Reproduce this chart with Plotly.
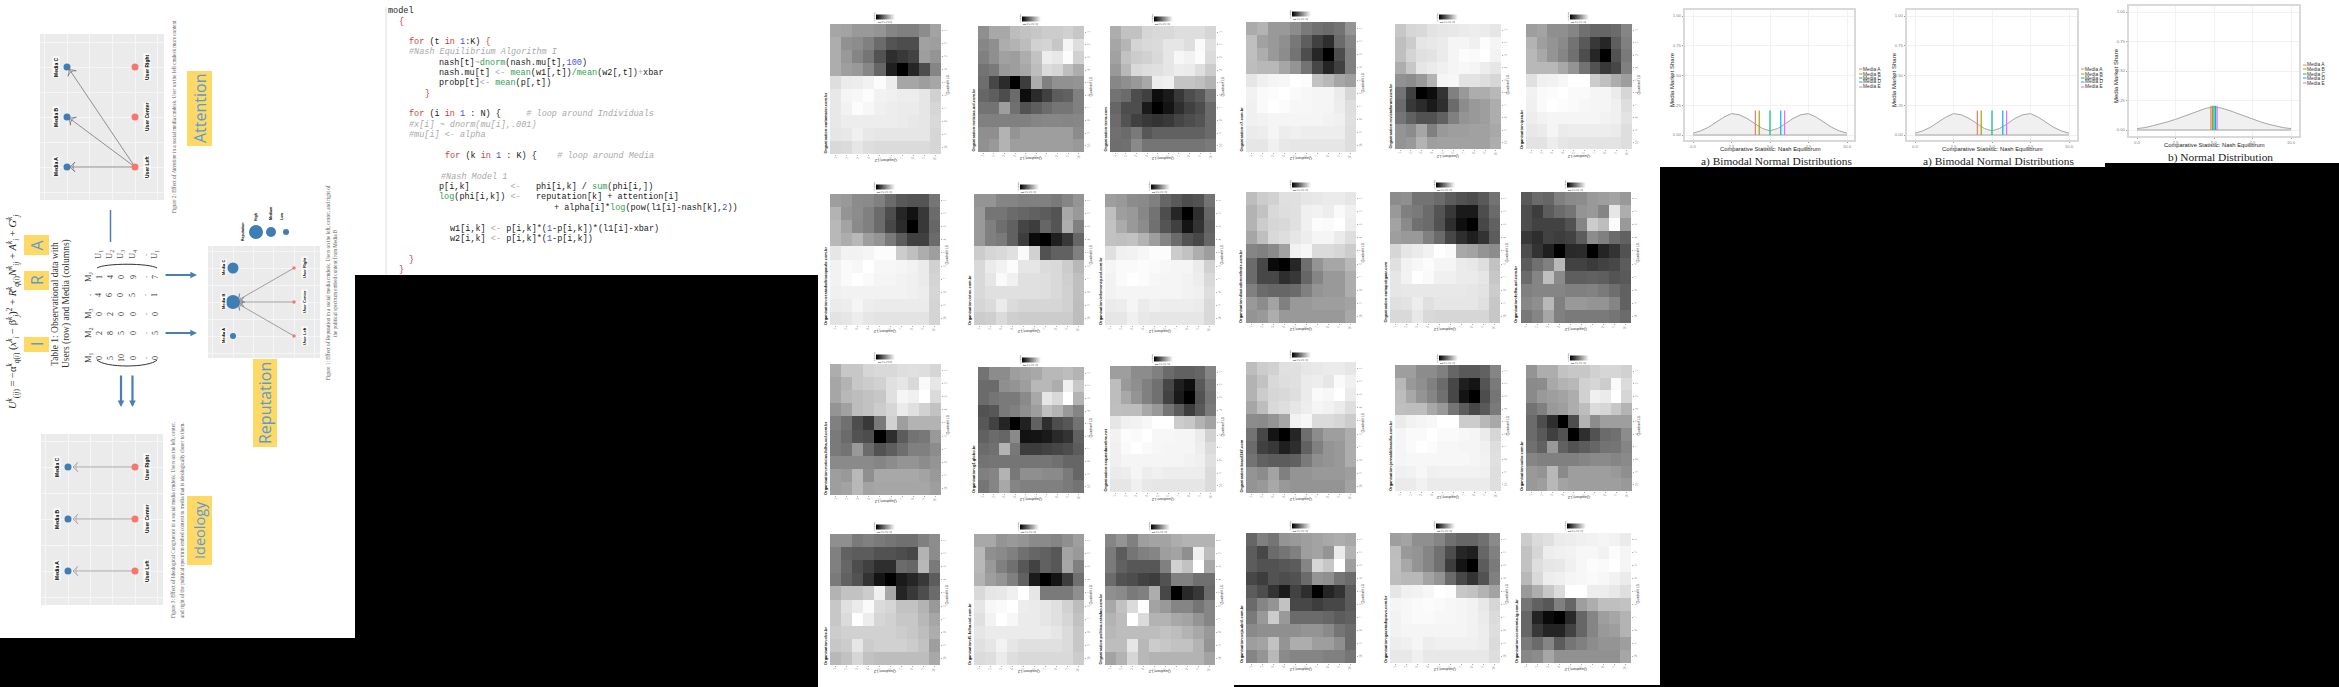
import plotly.graph_objects as go

W, H = 2339, 687

# ---------- heat map values (lightness of every tile, 0 black .. 100 white) ----------
heat_01 = [[65,64,60,60,58,52,50,50,55,64],[68,57,55,50,42,33,30,30,63,62],[68,60,52,46,32,18,22,26,62,58],[68,62,60,53,40,12,0,15,30,52],[87,92,93,95,99,93,65,65,62,65],[91,96,97,99,95,94,93,93,90,82],[91,95,99,97,94,93,92,92,90,84],[91,93,93,93,93,93,92,91,90,85],[90,91,94,91,90,90,90,90,90,84],[85,86,90,87,86,86,86,86,86,84]]
heat_02 = [[56,66,66,74,76,78,80,80,82,78],[53,56,68,70,74,82,83,78,96,87],[50,56,63,62,68,76,93,91,99,82],[45,48,60,62,66,74,86,84,75,68],[43,28,17,0,24,68,50,57,57,58],[40,37,30,42,5,17,25,36,38,50],[45,45,62,44,32,37,42,46,46,50],[50,50,50,50,50,52,53,53,52,53],[56,56,70,58,62,62,62,62,62,55],[57,60,70,62,62,62,62,62,62,60]]
heat_03 = [[68,76,76,84,85,85,87,87,87,84],[65,71,83,85,86,90,90,87,98,88],[63,76,80,82,85,90,97,95,99,86],[60,72,85,87,88,90,93,92,87,80],[53,56,60,66,93,94,77,77,75,70],[45,42,30,25,5,10,22,30,35,48],[40,30,30,10,0,8,18,25,30,42],[42,32,25,22,20,22,27,30,33,42],[44,42,48,34,38,38,38,38,38,42],[43,44,54,46,46,46,46,46,46,48]]
heat_04 = [[67,70,60,60,55,48,44,42,45,58],[75,63,60,56,47,37,25,18,42,52],[75,68,60,55,45,30,15,0,30,50],[74,72,72,65,58,45,28,14,25,50],[90,94,96,97,100,99,76,72,65,62],[95,98,99,100,98,97,96,96,92,84],[94,98,100,99,97,97,96,96,93,87],[94,95,96,96,96,96,96,95,94,88],[92,93,96,93,94,93,93,93,93,87],[90,90,94,91,90,90,90,90,90,87]]
heat_05 = [[78,84,85,89,90,91,92,93,92,90],[75,80,90,91,92,96,96,94,99,96],[75,83,88,89,92,96,99,98,100,95],[68,78,90,92,94,96,97,96,93,90],[57,55,60,70,96,97,89,89,87,84],[45,25,0,5,20,50,60,68,68,72],[42,22,17,10,18,42,55,60,62,68],[46,38,32,32,38,50,58,60,62,68],[58,55,65,50,60,62,62,63,63,66],[58,60,70,62,63,63,63,63,63,68]]
heat_06 = [[62,64,56,56,52,44,40,40,42,52],[70,62,58,54,45,35,22,15,37,50],[72,66,58,52,44,30,15,0,32,48],[72,72,72,66,58,45,32,22,28,50],[88,94,95,97,100,100,80,75,68,62],[95,98,99,100,98,98,96,96,92,84],[94,98,100,99,98,97,96,96,94,87],[93,95,96,96,96,96,96,95,94,89],[91,92,96,92,93,93,93,93,92,87],[89,89,93,90,89,89,89,89,89,87]]
heat_07 = [[62,60,55,54,50,42,35,33,33,46],[70,58,55,50,42,30,15,7,22,42],[72,64,54,50,42,28,17,0,22,40],[72,68,72,62,58,48,36,25,25,42],[90,95,95,96,99,99,80,75,68,62],[95,98,97,100,97,97,96,95,92,82],[95,98,100,98,96,96,95,94,92,83],[94,95,95,95,95,95,95,94,93,84],[92,93,96,93,92,92,92,92,92,83],[89,90,93,90,89,89,89,89,89,83]]
heat_08 = [[58,58,52,52,50,50,50,48,52,58],[60,46,46,42,40,38,36,33,66,60],[60,50,43,38,27,24,40,33,68,50],[60,50,48,38,24,4,0,12,22,40],[80,84,85,88,98,82,32,38,38,50],[85,92,95,99,90,90,86,85,80,72],[85,90,98,94,88,88,87,85,81,75],[85,88,88,88,88,88,87,85,82,75],[84,86,92,86,84,84,84,84,82,74],[80,81,86,81,80,80,80,80,80,74]]
heat_09 = [[62,60,55,54,50,40,35,30,32,45],[75,62,60,53,45,30,15,0,18,40],[76,67,60,55,44,33,25,8,20,38],[76,75,76,70,62,52,42,32,28,40],[88,94,95,97,99,99,80,76,68,62],[96,98,98,99,98,97,96,96,92,82],[95,98,100,99,97,96,96,95,93,85],[95,96,96,96,96,96,96,95,94,87],[92,93,96,92,94,93,93,93,92,85],[90,90,94,91,90,90,90,90,90,85]]
heat_10 = [[74,80,82,88,88,90,91,92,92,90],[70,76,85,87,88,94,95,93,98,94],[70,80,84,85,88,94,99,98,100,93],[65,75,85,87,90,93,96,96,92,87],[52,50,54,63,95,97,86,86,84,80],[42,28,4,0,15,43,58,65,65,72],[42,28,28,18,22,40,52,60,60,68],[50,42,40,40,42,50,58,60,60,68],[60,55,64,50,60,60,62,62,62,64],[58,60,68,60,60,60,60,60,60,66]]
heat_11 = [[55,56,45,45,42,36,32,30,35,45],[60,50,48,42,33,22,10,10,30,42],[64,54,44,42,32,18,6,0,28,38],[62,60,60,50,42,28,18,12,20,36],[84,90,92,95,100,98,66,64,58,55],[88,95,97,99,96,96,92,91,87,76],[90,95,100,98,94,94,92,92,90,78],[90,91,91,91,91,91,91,90,89,80],[88,89,93,88,90,90,90,90,88,78],[85,85,91,85,84,84,84,84,84,78]]
heat_12 = [[35,42,40,50,54,55,60,62,64,60],[30,24,36,42,46,58,60,52,90,68],[30,26,26,26,32,52,80,74,99,60],[22,18,26,24,26,36,55,50,42,38],[30,20,12,0,16,17,0,14,20,32],[36,44,50,72,26,26,23,26,28,36],[42,52,75,54,37,37,38,37,33,35],[50,52,52,52,50,50,51,48,43,38],[53,56,72,50,60,60,58,58,52,38],[47,52,65,50,48,48,48,48,46,42]]
heat_13 = [[68,78,78,84,85,85,87,88,87,84],[65,70,78,80,82,88,90,85,98,90],[65,72,74,76,78,88,96,94,100,86],[58,63,74,76,80,84,92,88,82,76],[50,44,30,22,48,82,62,70,70,70],[48,42,32,30,0,18,36,45,47,60],[48,45,60,42,32,37,43,50,50,55],[54,54,54,54,52,55,58,58,55,58],[62,60,72,56,66,66,66,66,64,60],[62,64,72,64,65,65,65,65,65,62]]
heat_14 = [[45,55,55,62,64,66,72,72,74,70],[42,42,56,58,62,72,72,68,94,78],[42,46,48,48,54,66,90,85,100,70],[32,34,48,50,56,62,75,70,60,52],[34,26,14,0,13,38,18,30,34,45],[38,42,40,54,7,8,10,16,20,38],[42,44,70,47,24,24,26,28,30,36],[45,46,46,46,46,46,46,44,40,40],[50,52,70,47,56,56,54,54,48,40],[46,52,66,52,50,50,50,50,48,45]]
heat_15 = [[62,62,55,55,50,42,38,38,40,52],[74,60,56,50,44,28,12,6,35,48],[74,66,58,50,44,26,10,0,32,46],[75,74,74,66,60,46,36,24,35,48],[90,94,95,97,100,100,80,78,70,64],[95,99,98,100,97,97,96,96,92,82],[94,98,100,98,97,96,96,96,93,86],[94,96,96,96,96,96,96,95,94,88],[92,93,96,93,94,93,93,93,93,86],[90,90,94,91,90,90,90,90,90,86]]
heat_16 = [[74,80,82,88,88,90,91,92,92,90],[70,76,85,87,88,92,93,90,98,94],[70,80,84,85,87,92,98,97,100,92],[65,74,85,87,90,93,96,95,92,87],[55,54,58,65,95,97,86,86,84,80],[45,28,8,0,15,43,55,62,62,68],[42,25,22,12,18,38,50,58,60,68],[45,38,36,36,38,48,56,58,60,68],[58,55,64,50,58,58,60,60,60,62],[58,60,66,60,58,58,58,58,58,64]]
heat_17 = [[62,62,55,55,50,40,35,35,38,52],[72,60,56,50,42,28,12,8,33,48],[74,66,58,52,44,28,8,0,30,46],[75,74,74,66,60,46,36,28,35,48],[92,95,96,97,100,100,80,80,72,66],[96,98,98,100,98,98,97,96,92,84],[96,98,100,99,97,97,96,96,94,87],[96,97,97,97,97,97,97,96,95,88],[94,95,97,94,95,95,95,95,94,87],[92,92,95,92,92,92,92,92,92,87]]
heat_18 = [[58,68,68,76,78,78,82,84,84,82],[54,55,66,70,72,82,84,80,98,86],[54,60,62,64,68,82,94,92,100,84],[45,50,60,62,68,74,86,84,78,70],[42,30,18,0,30,70,55,62,62,62],[42,35,25,32,0,18,32,42,44,55],[44,38,60,38,32,36,40,45,46,52],[52,50,50,50,50,52,54,54,52,54],[60,58,72,54,62,62,62,62,60,56],[60,62,72,64,62,62,62,62,62,60]]
heat_19 = [[56,56,48,50,48,46,44,44,50,55],[50,38,36,36,32,32,30,28,70,55],[50,40,30,25,18,18,42,40,72,48],[48,38,32,20,8,0,10,15,22,36],[70,76,76,80,94,66,14,22,30,42],[78,88,92,98,86,84,76,76,70,60],[78,86,100,93,84,82,78,78,72,65],[80,82,82,82,82,82,80,78,74,68],[78,80,90,80,82,82,82,80,76,62],[72,76,84,76,74,74,74,74,74,66]]
heat_20 = [[66,66,58,60,58,54,54,52,56,62],[72,56,54,50,44,40,38,34,64,60],[72,60,50,44,34,26,38,34,65,50],[70,62,58,50,38,10,0,8,24,44],[85,90,91,94,100,90,48,48,48,56],[90,97,98,100,93,92,90,88,82,74],[88,95,100,97,92,92,90,88,84,76],[90,92,92,92,92,92,92,90,86,78],[88,90,95,90,88,88,88,88,86,78],[86,87,92,87,85,85,85,85,85,80]]
heat_21 = [[52,58,50,62,64,64,68,70,70,70],[48,36,46,50,52,62,64,56,94,74],[48,38,34,34,34,50,82,76,100,66],[42,32,30,26,24,32,50,50,44,44],[56,54,48,50,68,28,0,16,22,42],[66,76,86,100,64,60,52,52,46,52],[70,74,100,86,70,70,66,64,58,52],[72,74,74,74,74,76,74,70,66,60],[74,74,90,72,80,78,76,76,70,58],[64,70,84,72,70,70,70,70,70,64]]
heat_22 = [[40,50,46,58,60,62,64,66,68,66],[36,28,42,46,50,62,64,58,92,70],[36,32,32,34,36,52,84,78,100,62],[28,24,32,30,32,42,58,56,46,42],[36,30,20,10,26,18,0,14,20,36],[42,52,58,76,28,28,24,28,28,36],[48,60,80,60,42,42,42,40,36,38],[54,56,56,56,56,58,58,54,46,42],[62,64,76,58,68,68,62,62,56,42],[52,58,72,54,52,52,52,50,50,46]]
heat_23 = [[62,64,56,56,52,44,40,40,44,54],[74,60,58,52,44,30,15,12,40,50],[75,66,58,52,44,24,8,0,36,48],[74,72,72,64,58,42,28,20,32,50],[90,94,95,97,100,99,78,76,70,64],[96,97,98,99,98,97,96,95,91,84],[95,97,98,98,97,97,96,95,92,86],[95,96,96,96,96,96,96,95,93,87],[93,94,96,93,94,94,94,94,93,86],[91,91,94,91,91,91,91,91,91,87]]
heat_24 = [[80,86,88,92,93,94,95,96,95,92],[76,84,93,94,95,97,97,95,99,96],[76,87,90,91,94,97,99,98,100,96],[72,85,93,94,96,97,98,97,95,92],[60,68,78,86,100,100,93,93,91,87],[46,38,34,50,40,62,68,75,75,76],[40,14,4,0,16,40,52,62,65,70],[40,22,14,14,26,40,52,60,62,70],[48,42,52,36,46,50,55,58,58,62],[53,55,65,57,57,57,57,57,57,65]]

heat_matrices = [heat_01, heat_02, heat_03, heat_04, heat_05, heat_06,
                 heat_07, heat_08, heat_09, heat_10, heat_11, heat_12,
                 heat_13, heat_14, heat_15, heat_16, heat_17, heat_18,
                 heat_19, heat_20, heat_21, heat_22, heat_23, heat_24]

heat_names = ["cartamaior.com.br", "noticias.uol.com.br", "terra.com",
              "r7.com.br", "revistaforum.com.br", "ipea.br",
              "oestadodesaopaulo.com.br", "istoe.com.br", "infomoney.uol.com.br",
              "diariodonordeste.com.br", "cartapotiguar.com", "folha.uol.com.br",
              "noticias.folha.uol.com.br", "g1.globo.br", "esquerdaonline.net",
              "brasil247.com", "jornaldebrasilia.com.br", "valor.com.br",
              "ebc.br", "f5.folha.uol.com.br", "politica.estadao.com.br",
              "veja.abril.com.br", "gazetadopovo.com.br", "economia.ig.com.br"]

tile_ticks = ["1", "2", "3", "4", "5", "6", "7", "8", "9", "10"]

# ---------- density charts ----------
dens_x = [0, .5, 1, 1.5, 2, 2.5, 3, 3.5, 4, 4.5, 5, 5.5, 6, 6.5, 7, 7.5, 8, 8.5, 9, 9.5, 10]
dens_bimodal = [.015, .035, .065, .105, .15, .18, .17, .14, .095, .055, .035, .055, .095, .14, .17, .18, .15, .105, .065, .035, .015]
dens_normal = [.012, .02, .035, .05, .07, .09, .115, .14, .165, .185, .195, .185, .165, .14, .115, .09, .07, .05, .035, .02, .012]
media_names = ["Media A", "Media B", "Media C", "Media D", "Media E"]
media_colors = ["#F8766D", "#A3A500", "#00BF7D", "#00B0F6", "#E76BF3"]
nash_bimodal = [4.05, 4.3, 5.0, 5.7, 5.95]
nash_normal = [4.8, 4.9, 5.0, 5.1, 5.2]
share_top = 0.205

# ---------- network panels ----------
node_pos = [1, 2, 3]
media_side, user_side = 0, 1
media_labels = ["Media A", "Media B", "Media C"]
user_labels = ["User Left", "User Center", "User Right"]
attention_edges = [(1, 1), (1, 2), (1, 3)]
ideology_edges = [(1, 1), (2, 2), (3, 3)]
reputation_edges = [(1, 2), (2, 2), (3, 2)]
reputation_sizes = [6, 14, 11]
rep_legend_pos = [1, 2, 3]
rep_legend_sizes = [14, 10, 6]
rep_legend_labels = ["High", "Medium", "Low"]

# ---------- table ----------
table_cols = ["M<sub>1</sub>", "M<sub>2</sub>", "M<sub>3</sub>", ".", "M<sub>J</sub>"]
table_rows = ["U<sub>1</sub>", "U<sub>2</sub>", "U<sub>3</sub>", "U<sub>4</sub>", ".", "U<sub>I</sub>"]
table_vals = [["0", "2", "0", "4", "1"], ["5", "8", "2", "6", "4"], ["10", "5", "0", "0", "0"],
              ["0", "0", "0", "5", "9"], [".", ".", ".", ".", "."], ["0", "5", "0", "1", "7"]]

# ---------- helpers ----------
def px(x): return x / W
def py(y): return 1 - y / H

SERIF = "Liberation Serif"
SANS = "Liberation Sans"
fig = go.Figure()
shapes, annos, axes = [], [], {}
axis_no = [0]

def text(x, y, s, size, color="#000", angle=0, xa="center", ya="middle", family=SANS, **kw):
    annos.append(dict(x=px(x), y=py(y), xref="paper", yref="paper", text=s, showarrow=False,
                      textangle=angle, xanchor=xa, yanchor=ya, borderpad=0, borderwidth=0,
                      font=dict(size=size, color=color, family=family), **kw))

def rect(x0, y0, x1, y1, color):
    shapes.append(dict(type="rect", xref="paper", yref="paper", x0=px(x0), x1=px(x1), y0=py(y0), y1=py(y1),
                       fillcolor=color, line=dict(width=0), layer="below"))

def new_axes(x0, x1, y0, y1, xaxis, yaxis):
    axis_no[0] += 1
    n = axis_no[0]
    axes["xaxis%d" % n] = dict(domain=[px(x0), px(x1)], anchor="y%d" % n, **xaxis)
    axes["yaxis%d" % n] = dict(domain=[py(y1), py(y0)], anchor="x%d" % n, **yaxis)
    return "x%d" % n, "y%d" % n

# ---------- page pieces ----------
for r in [(0, 0, 355, 638), (355, 0, 818, 275), (818, 0, 1234, 687), (1234, 0, 1660, 685),
          (1660, 0, 2105, 167), (2105, 0, 2339, 163)]:
    rect(*r, "#ffffff")
# network panels carry the ggplot grey background
for sh in [(40, 34, 164, 200), (41, 434, 163, 605), (208, 246, 320, 358)]:
    rect(*sh, "#ebebeb")

# ---------- network panels ----------
BLUE, SALMON = "#3f7db5", "#f8776c"

def network(dom, media_px, user_px, pos_px, edges, media_size, user_size, label_size,
            media_shift, user_shift, line_w, line_c, tip_gap):
    x0, x1, y0, y1 = dom
    ux = user_px - media_px
    uy = pos_px[0] - pos_px[1]
    xr = [(x0 - media_px) / ux, (x1 - media_px) / ux]
    yr = [1 + (pos_px[0] - y1) / uy, 1 + (pos_px[0] - y0) / uy]
    common = dict(showticklabels=False, ticks="", zeroline=False, showline=False,
                  gridcolor="#f6f6f6", gridwidth=1, layer="below traces")
    xa, ya = new_axes(x0, x1, y0, y1,
                      dict(range=xr, tickmode="linear", tick0=0, dtick=1 / 3, **common),
                      dict(range=yr, tickmode="linear", tick0=1, dtick=0.5, **common))
    for u, m in edges:
        tip_x = media_side + tip_gap / ux * (1 if m == u else 0.8)
        tip_y = m + (u - m) * tip_gap / 110 * 0.9
        fig.add_trace(go.Scatter(x=[user_side, tip_x], y=[u, tip_y], mode="lines+markers", xaxis=xa, yaxis=ya,
                                 line=dict(color=line_c, width=line_w),
                                 marker=dict(symbol="arrow-wide-open", angleref="previous", size=[0, 7], opacity=1,
                                             color=line_c, line=dict(width=0.8, color=line_c)),
                                 showlegend=False, hoverinfo="skip"))
    fig.add_trace(go.Scatter(x=[media_side] * 3, y=node_pos, mode="markers", xaxis=xa, yaxis=ya,
                             marker=dict(color=BLUE, size=media_size, opacity=1, line=dict(width=0)), showlegend=False))
    fig.add_trace(go.Scatter(x=[user_side] * 3, y=node_pos, mode="markers", xaxis=xa, yaxis=ya,
                             marker=dict(color=SALMON, size=user_size, opacity=1, line=dict(width=0)), showlegend=False))
    for i, p in enumerate(node_pos):
        annos.append(dict(x=media_side, y=p, xref=xa, yref=ya, text="<b>%s</b>" % media_labels[i], showarrow=False,
                          textangle=-90, xshift=media_shift, bgcolor="#ffffff", borderpad=0,
                          font=dict(size=label_size, color="#000", family=SANS)))
        annos.append(dict(x=user_side, y=p, xref=xa, yref=ya, text="<b>%s</b>" % user_labels[i], showarrow=False,
                          textangle=-90, xshift=user_shift, bgcolor="#ffffff", borderpad=0,
                          font=dict(size=label_size, color="#000", family=SANS)))
    return xa, ya

network((40, 164, 34, 200), 67, 135, [167, 117, 67], attention_edges, 7, 7, 5, -11, 12, 0.8, "#777777", 3)
network((41, 163, 434, 605), 68, 135, [571, 519, 468], ideology_edges, 7, 7, 5, -11, 12, 1.2, "#a8a8a8", 5)
network((208, 320, 246, 358), 233, 294, [336, 302, 268], reputation_edges, reputation_sizes, 3.5, 4, -10, 10, 0.8, "#8a8a8a", 6)

# reputation legend
lx, ly = new_axes(249, 289, 224, 240,
                  dict(range=[1 - 7 / 15, 1 + 33 / 15], visible=False),
                  dict(range=[-1, 1], visible=False))
fig.add_trace(go.Scatter(x=rep_legend_pos, y=[0, 0, 0], mode="markers", xaxis=lx, yaxis=ly, showlegend=False,
                         marker=dict(color=BLUE, size=rep_legend_sizes, opacity=1, line=dict(width=0))))
text(243, 232, "<b>Reputation</b>", 3.5, angle=-90)
for lab, xp, yp in zip(rep_legend_labels, [256, 271, 282], [217, 214, 217]):
    text(xp, yp, "<b>%s</b>" % lab, 3.5, angle=-90)

# yellow tags
YEL, TAG = "#ffd966", "#5b9bd5"
for (x0, y0, x1, y1, s, size) in [(187, 71, 212, 146, "Attention", 16), (253, 359, 277, 447, "Reputation", 16),
                                  (187, 496, 212, 565, "Ideology", 14.5), (24, 235, 49, 255, "A", 16),
                                  (24, 271, 49, 290, "R", 16), (24, 337, 49, 352, "I", 16)]:
    rect(x0, y0, x1, y1, YEL)
    text((x0 + x1) / 2, (y0 + y1) / 2, s, size, TAG, angle=-90, family="Open Sans")

# captions
CAP = "#5c5c5c"
text(174, 117, "Figure 2: Effect of <i>Attention</i> in a social media cmdesk. User on the left cmdesk more content", 5.2, CAP, -90, family=SERIF)
text(173, 520, "Figure 3: Effect of Ideological Congruence in a social media cmdesk. Users on the left, center,", 5.2, CAP, -90, family=SERIF)
text(182, 520, "and right of the political spectrum embed content to media that is ideologically closer to them.", 5.2, CAP, -90, family=SERIF)
text(328, 283, "Figure 1: Effect of Reputation in a social media cmdesk. Users on the left, center, and right of", 5.2, CAP, -90, family=SERIF)
text(335, 283, "the political spectrum embed content from Media B", 5.2, CAP, -90, family=SERIF)

# equation, table title
text(13, 312,
     "<i>U</i><sup><i>k</i></sup><sub>(<i>ij</i>)</sub> = −α<sup><i>k</i></sup><sub><i>q</i>(<i>i</i>)</sub> "
     "(<i>x</i><sup><i>k</i></sup><sub><i>i</i></sub> − β<sup><i>k</i></sup><sub><i>j</i></sub>)<sup>2</sup> + "
     "<i>R</i><sup><i>k</i></sup><sub><i>q</i>(<i>i</i>)</sub><i>N</i><sup><i>k</i></sup><sub><i>ij</i></sub> + "
     "<i>A</i><sup><i>k</i></sup><sub><i>i</i></sub> + <i>G</i><sup><i>k</i></sup><sub><i>j</i></sub>",
     10.5, "#222", -90, family=SERIF)
text(55, 304, "Table 1: Observational data with", 9.5, "#333", -90, family=SERIF)
text(66, 304, "Users (row) and Media (columns)", 9.5, "#333", -90, family=SERIF)

# table
col_y = [358, 333, 314, 295, 277]
row_x = [99, 110, 121, 133, 144, 155]
for s, y in zip(table_cols, col_y):
    text(88, y, s, 8.5, "#333", -90, family=SERIF)
for s, x in zip(table_rows, row_x):
    text(x, 255, s, 8.5, "#555", -90, family=SERIF)
for row, x in zip(table_vals, row_x):
    for s, y in zip(row, col_y):
        text(x, y, s, 8, "#333", -90, family=SERIF)
for (x_a, x_b, y_end, y_mid) in [(97, 157, 360, 368), (97, 157, 268, 263)]:
    shapes.append(dict(type="path", xref="paper", yref="paper",
                       path="M %f %f C %f %f %f %f %f %f" % (px(x_a), py(y_end), px(x_a + 8), py(y_mid), px(x_b - 8), py(y_mid), px(x_b), py(y_end)),
                       line=dict(color="#333333", width=1)))

# blue connecting arrows
ARROW = "#4a7fb5"
for (x, y, ax, ay) in [(197, 275, -33, 0), (197, 333, -33, 0), (121, 407, 0, -33), (132.5, 407, 0, -33)]:
    annos.append(dict(x=px(x), y=py(y), xref="paper", yref="paper", text="", showarrow=True, ax=ax, ay=ay,
                      arrowcolor=ARROW, arrowwidth=2.2, arrowhead=2, arrowsize=0.6))
shapes.append(dict(type="line", xref="paper", yref="paper", x0=px(110.5), x1=px(110.5), y0=py(210), y1=py(242),
                   line=dict(color=ARROW, width=1.5)))

# ---------- code listing ----------
R, G, N, C, D = "#cc3b3b", "#2f9e4f", "#4b4bf0", "#a9a9a9", "#222222"
def sp(color, s, it=False):
    s = s.replace(" ", "\u00a0").replace("<-", "&lt;-")
    s = "<i>%s</i>" % s if it else s
    return '<span style="color:%s">%s</span>' % (color, s)

code_lines = [
    (388, 11, sp(D, "model")),
    (399, 22, sp(R, "{")),
    (409, 42, sp(R, "for") + sp(D, " (t ") + sp(R, "in") + sp(D, " ") + sp(N, "1") + sp(D, ":K) ") + sp(R, "{")),
    (409, 52, sp(C, "#Nash Equilibrium Algorithm I", True)),
    (439, 63, sp(D, "nash[t]") + sp(C, "~") + sp(G, "dnorm") + sp(D, "(nash.mu[t],") + sp(N, "100") + sp(D, ")")),
    (439, 73, sp(D, "nash.mu[t] ") + sp(C, "<- ") + sp(G, "mean") + sp(D, "(w1[,t])") + sp(G, "/mean") + sp(D, "(w2[,t])") + sp(C, "+") + sp(D, "xbar")),
    (439, 83, sp(D, "probp[t]") + sp(C, "<- ") + sp(G, "mean") + sp(D, "(p[,t])")),
    (425, 94, sp(R, "}")),
    (409, 114, sp(R, "for") + sp(D, " (i ") + sp(R, "in") + sp(D, " ") + sp(N, "1") + sp(D, " : N) {     ") + sp(C, "# loop around Individuals", True)),
    (409, 125, sp(C, "#x[i] ~ dnorm(mu[i],.001)", True)),
    (409, 135, sp(C, "#mu[i] <- alpha", True)),
    (445, 156, sp(R, "for") + sp(D, " (k ") + sp(R, "in") + sp(D, " ") + sp(N, "1") + sp(D, " : K) {    ") + sp(C, "# loop around Media", True)),
    (441, 177, sp(C, "#Nash Model 1", True)),
    (439, 187, sp(D, "p[i,k]        ") + sp(C, "<-   ") + sp(D, "phi[i,k] / ") + sp(G, "sum") + sp(D, "(phi[i,])")),
    (439, 197, sp(G, "log") + sp(D, "(phi[i,k]) ") + sp(C, "<-   ") + sp(D, "reputation[k] + attention[i]")),
    (554, 208, sp(D, "+ alpha[i]*") + sp(G, "log") + sp(D, "(pow(l1[i]-nash[k],") + sp(N, "2") + sp(D, "))")),
    (450, 229, sp(D, "w1[i,k] ") + sp(C, "<- ") + sp(D, "p[i,k]*(") + sp(N, "1") + sp(D, "-p[i,k])*(l1[i]-xbar)")),
    (450, 239, sp(D, "w2[i,k] ") + sp(C, "<- ") + sp(D, "p[i,k]*(") + sp(N, "1") + sp(D, "-p[i,k])")),
    (409, 260, sp(R, "}")),
    (399, 270, sp(R, "}")),
]
for x, y, s in code_lines:
    text(x, y, s, 8.5, D, xa="left", family="Liberation Mono")
shapes.append(dict(type="line", xref="paper", yref="paper", x0=px(386), x1=px(386), y0=py(7), y1=py(275),
                   line=dict(color="#dddddd", width=1)))

# ---------- heat maps ----------
heat_boxes = [(830, 941, 24, 154), (978, 1084, 26, 152), (1110, 1216, 26, 152), (1246, 1356, 22, 152), (1395, 1501, 24, 149), (1526, 1632, 24, 149),
              (830, 940, 194, 325), (974, 1084, 194, 325), (1105, 1215, 194, 325), (1246, 1356, 192, 323), (1390, 1500, 192, 323), (1521, 1631, 192, 323),
              (830, 941, 364, 495), (978, 1084, 367, 493), (1110, 1216, 366, 492), (1246, 1356, 362, 493), (1395, 1501, 365, 491), (1526, 1632, 365, 491),
              (830, 940, 534, 665), (974, 1084, 534, 665), (1105, 1215, 534, 665), (1246, 1356, 533, 663), (1390, 1500, 533, 663), (1521, 1631, 533, 663)]
TICK = dict(size=3, color="#9a9a9a", family=SANS)
for z, name, (x0, x1, y0, y1) in zip(heat_matrices, heat_names, heat_boxes):
    idx = list(range(10))
    xa, ya = new_axes(x0, x1, y0, y1,
                      dict(range=[-0.5, 9.5], tickvals=idx, ticktext=tile_ticks, tickangle=-90, tickfont=TICK,
                           ticks="outside", ticklen=1, tickwidth=0.4, tickcolor="#aaaaaa", showgrid=False, zeroline=False),
                      dict(range=[9.5, -0.5], tickvals=idx, ticktext=tile_ticks, tickangle=-90, tickfont=TICK, side="right",
                           ticks="outside", ticklen=1, tickwidth=0.4, tickcolor="#aaaaaa", showgrid=False, zeroline=False))
    cx = (x0 + x1) / 2
    fig.add_trace(go.Heatmap(z=z, xaxis=xa, yaxis=ya, zmin=0, zmax=100,
                             colorscale=[[0, "#000000"], [1, "#ffffff"]], hoverinfo="skip",
                             colorbar=dict(orientation="h", x=px(cx), xanchor="center", y=py(y0 - 6.5), yanchor="middle",
                                           len=19, lenmode="pixels", thickness=4.5, xpad=0, ypad=0, outlinewidth=0,
                                           ticklabelposition="outside top", tickvals=[20, 40, 60, 80], ticks="",
                                           ticktext=["1", "2", "3", "4"], tickfont=dict(size=3.5, color="#555555", family=SANS),
                                           tickangle=-90)))
    text(x0 - 5, y1, "<b>Organisation:%s</b>" % name, 4, "#111", -90, ya="bottom")
    text(x1 + 6.5, y0 + 61, "Quadrant L1", 3.5, "#444", -90)
    text(cx, y1 + 7, "Quadrant L2", 4, "#333", 180)
    text(cx - 11, y0 - 7.5, "Number", 2.5, "#333", -90)

# ---------- density charts ----------
def density(dom, x0px, x10px, y1px, y0px, curve, nash, leg_key_x, leg_ys, cap, cap_x, cap_y):
    x0, x1, y0, y1 = dom
    ppx = (x10px - x0px) / 10
    ppy = y0px - y1px
    base = dict(showline=True, mirror=True, linecolor="#d9d9d9", linewidth=1.5, gridcolor="#f2f2f2", gridwidth=0.7,
                zeroline=False, ticks="outside", ticklen=1.5, tickwidth=0.5, tickcolor="#999999",
                tickfont=dict(size=4.2, color="#7f7f7f", family=SANS))
    xa, ya = new_axes(x0, x1, y0, y1,
                      dict(range=[(x0 - x0px) / ppx, (x1 - x0px) / ppx], tickvals=[0, 2.5, 5, 7.5, 10],
                           ticktext=["0.0", "2.5", "5.0", "7.5", "10.0"], **base),
                      dict(range=[(y0px - y1) / ppy, (y0px - y0) / ppy], tickvals=[0, .25, .5, .75, 1],
                           ticktext=["0.00", "0.25", "0.50", "0.75", "1.00"], **base))
    fig.add_trace(go.Scatter(x=dens_x, y=curve, mode="lines", xaxis=xa, yaxis=ya, fill="tozeroy", fillcolor="#f0f0f0",
                             line=dict(color="#a6a6a6", width=1), showlegend=False, hoverinfo="skip"))
    fig.add_trace(go.Scatter(x=[dens_x[0], dens_x[-1]], y=[0, 0], mode="lines", xaxis=xa, yaxis=ya,
                             line=dict(color="#a6a6a6", width=1), showlegend=False, hoverinfo="skip"))
    for v, c, lab, ly_ in zip(nash, media_colors, media_names, leg_ys):
        fig.add_trace(go.Scatter(x=[v, v], y=[0, share_top], mode="lines", xaxis=xa, yaxis=ya,
                                 line=dict(color=c, width=1.2), showlegend=False, hoverinfo="skip"))
        shapes.append(dict(type="line", xref="paper", yref="paper", x0=px(leg_key_x), x1=px(leg_key_x + 3.5),
                           y0=py(ly_), y1=py(ly_), line=dict(color=c, width=1)))
        text(leg_key_x + 4, ly_, lab, 4.8, "#333", xa="left")
    text((x0px + x10px) / 2, y1 + 9, "Comparative Statistic: Nash Equilibrum", 5.8, "#222")
    text(x0 - 13, (y0 + y1) / 2 + 5, "Media Market Share", 6, "#222", -90)
    text(cap_x, cap_y, cap, 11.4, "#222", family=SERIF)

density((1685, 1854, 10, 140), 1693, 1847, 16, 135, dens_bimodal, nash_bimodal, 1859, [69, 74, 78, 82, 87],
        "a) Bimodal Normal Distributions", 1776, 161)
density((1907, 2077, 10, 140), 1915, 2069, 16, 135, dens_bimodal, nash_bimodal, 2081, [69, 74, 78, 82, 87],
        "a) Bimodal Normal Distributions", 1999, 161)
density((2129, 2299, 6, 136), 2137, 2291, 12, 130, dens_normal, nash_normal, 2303, [65, 69, 74, 78, 83],
        "b) Normal Distribution", 2220, 157)

# ---------- layout ----------
fig.update_layout(width=W, height=H, margin=dict(l=0, r=0, t=0, b=0), paper_bgcolor="#000000", plot_bgcolor="rgba(0,0,0,0)",
                  showlegend=False, shapes=shapes, annotations=annos, **axes)

fig.write_html("out.html", config=dict(displayModeBar=False),
               post_script="document.body.style.margin='0';document.body.style.overflow='hidden';")
